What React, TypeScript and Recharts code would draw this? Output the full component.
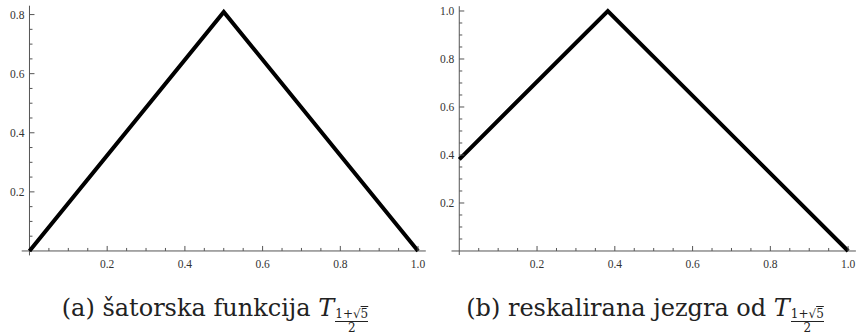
import React from "react";
import { LineChart, Line, XAxis, YAxis, ReferenceLine } from "recharts";

// (a) tent function T_phi, (b) rescaled kernel
const tentX = [0, 0.5, 1];
const tentY = [0, 0.809, 0];
const kernelX = [0, 0.382, 1];
const kernelY = [0.382, 1, 0];

const xTicks = [
  0.05, 0.1, 0.15, 0.2, 0.25, 0.3, 0.35, 0.4, 0.45, 0.5,
  0.55, 0.6, 0.65, 0.7, 0.75, 0.8, 0.85, 0.9, 0.95, 1.0,
];
const yTicksA = [
  0.05, 0.1, 0.15, 0.2, 0.25, 0.3, 0.35, 0.4, 0.45, 0.5,
  0.55, 0.6, 0.65, 0.7, 0.75, 0.8,
];
const yTicksB = [
  0.05, 0.1, 0.15, 0.2, 0.25, 0.3, 0.35, 0.4, 0.45, 0.5,
  0.55, 0.6, 0.65, 0.7, 0.75, 0.8, 0.85, 0.9, 0.95, 1.0,
];
const majorTicks = [0.2, 0.4, 0.6, 0.8, 1.0];
const majorLabels = ["0.2", "0.4", "0.6", "0.8", "1.0"];

const AXIS = "#555";
const LABEL = "#333";
const TICK_FONT = "'Liberation Serif', 'DejaVu Serif', serif";

function labelFor(v: number) {
  const i = majorTicks.findIndex((m) => Math.abs(m - v) < 1e-6);
  return i >= 0 ? majorLabels[i] : null;
}

interface PanelProps {
  xs: number[];
  ys: number[];
  yTicks: number[];
  xDomain: [number, number];
  yDomain: [number, number];
  width: number;
  height: number;
  margin: { top: number; right: number; bottom: number; left: number };
}

function Panel({ xs, ys, yTicks, xDomain, yDomain, width, height, margin }: PanelProps) {
  const data = xs.map((x, i) => ({ x, y: ys[i] }));
  // axis boxes are 1px, taken from the margins
  const plotW = width - margin.left - margin.right - 1;
  const plotH = height - margin.top - margin.bottom - 1;
  // distance from plot edge to the zero lines
  const offY = ((0 - yDomain[0]) / (yDomain[1] - yDomain[0])) * plotH;
  const offX = ((0 - xDomain[0]) / (xDomain[1] - xDomain[0])) * plotW;

  const renderXTick = (props: any) => {
    const { x, y, payload, index } = props;
    const y0 = y - offY;
    const lab = labelFor(payload.value);
    return (
      <g key={`xt-${index}`}>
        <line x1={x} x2={x} y1={y0} y2={y0 - (lab ? 5 : 3)} stroke={AXIS} strokeWidth={1} />
        {lab && (
          <text
            x={x}
            y={y0 + 17}
            textAnchor="middle"
            fill={LABEL}
            style={{ fontFamily: TICK_FONT, fontSize: 11.5 }}
          >
            {lab}
          </text>
        )}
      </g>
    );
  };

  const renderYTick = (props: any) => {
    const { x, y, payload, index } = props;
    const x0 = x + offX;
    const lab = labelFor(payload.value);
    return (
      <g key={`yt-${index}`}>
        <line x1={x0} x2={x0 + (lab ? 5 : 3)} y1={y} y2={y} stroke={AXIS} strokeWidth={1} />
        {lab && (
          <text
            x={x0 - 5}
            y={y + 4}
            textAnchor="end"
            fill={LABEL}
            style={{ fontFamily: TICK_FONT, fontSize: 11.5 }}
          >
            {lab}
          </text>
        )}
      </g>
    );
  };

  return (
    <LineChart width={width} height={height} data={data} margin={margin} style={{ overflow: "visible" }}>
      <XAxis
        type="number"
        dataKey="x"
        domain={xDomain}
        ticks={xTicks}
        interval={0}
        height={1}
        axisLine={false}
        tickLine={false}
        tickSize={0}
        tickMargin={0}
        tick={renderXTick}
        allowDataOverflow
      />
      <YAxis
        type="number"
        domain={yDomain}
        ticks={yTicks}
        interval={0}
        width={1}
        axisLine={false}
        tickLine={false}
        tickSize={0}
        tickMargin={0}
        tick={renderYTick}
        allowDataOverflow
      />
      <ReferenceLine y={0} stroke={AXIS} strokeWidth={1} />
      <ReferenceLine x={0} stroke={AXIS} strokeWidth={1} />
      <Line
        type="linear"
        dataKey="y"
        stroke="#000"
        strokeWidth={4}
        strokeLinejoin="miter"
        dot={false}
        activeDot={false}
        isAnimationActive={false}
      />
    </LineChart>
  );
}

function Caption({ left, text }: { left: number; text: string }) {
  return (
    <div
      style={{
        position: "absolute",
        left,
        top: 295,
        width: 430,
        textAlign: "center",
        fontFamily: "'DejaVu Serif', serif",
        fontSize: 24,
        lineHeight: "27px",
        color: "#222",
        whiteSpace: "nowrap",
      }}
    >
      {text} <i>T</i>
      <span
        style={{
          display: "inline-block",
          verticalAlign: -16,
          fontSize: 12,
          lineHeight: "11px",
          textAlign: "center",
          marginLeft: 1,
        }}
      >
        <span style={{ display: "block", borderBottom: "1px solid #222", paddingBottom: 1 }}>
          1+√<span style={{ textDecoration: "overline" }}>5</span>
        </span>
        <span style={{ display: "block", paddingTop: 1 }}>2</span>
      </span>
    </div>
  );
}

export default function App() {
  return (
    <div style={{ position: "absolute", left: 0, top: 0, width: 856, height: 336, background: "#fff" }}>
      <div style={{ position: "absolute", left: 0, top: 0 }}>
        <Panel
          xs={tentX}
          ys={tentY}
          yTicks={yTicksA}
          xDomain={[-0.02, 1.02]}
          yDomain={[-0.015, 0.83]}
          width={430}
          height={270}
          margin={{ top: 5.7, right: 4.2, bottom: 13.6, left: 20.7 }}
        />
      </div>
      <div style={{ position: "absolute", left: 430, top: 0 }}>
        <Panel
          xs={kernelX}
          ys={kernelY}
          yTicks={yTicksB}
          xDomain={[-0.02, 1.02]}
          yDomain={[-0.0167, 1.02]}
          width={426}
          height={270}
          margin={{ top: 6.2, right: 0.1, bottom: 14, left: 20.5 }}
        />
      </div>
      <Caption left={0} text="(a) šatorska funkcija" />
      <Caption left={430} text="(b) reskalirana jezgra od" />
    </div>
  );
}
